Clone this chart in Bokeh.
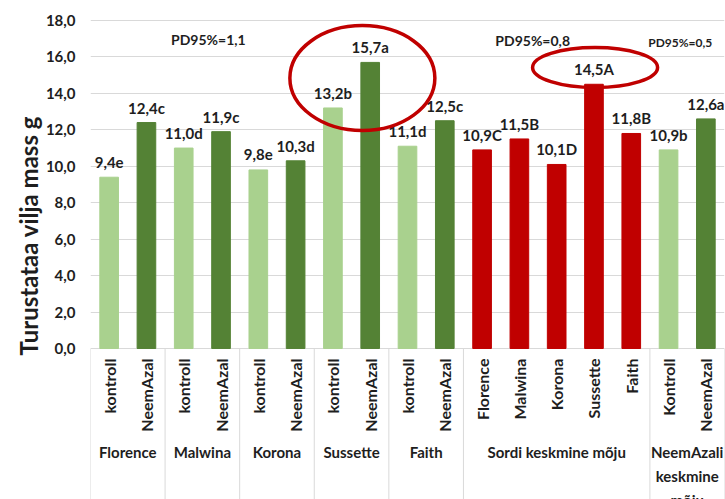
import math
from bokeh.plotting import figure
from bokeh.models import FactorRange, FixedTicker, Title, Range1d, ColumnDataSource
from bokeh.core.properties import value
from bokeh.embed import file_html
from bokeh.resources import INLINE

# ---------------- data ----------------
groups = ["Florence", "Malwina", "Korona", "Sussette", "Faith",
          "Sordi keskmine mõju", "NeemAzali keskmine mõju"]
group_labels = ["Florence", "Malwina", "Korona", "Sussette", "Faith",
                "Sordi keskmine mõju", "NeemAzali\nkeskmine\nmõju"]
sub_labels = [["kontroll", "NeemAzal"], ["kontroll", "NeemAzal"], ["kontroll", "NeemAzal"],
              ["kontroll", "NeemAzal"], ["kontroll", "NeemAzal"],
              ["Florence", "Malwina", "Korona", "Sussette", "Faith"],
              ["Kontroll", "NeemAzal"]]
values = [9.4, 12.4, 11.0, 11.9, 9.8, 10.3, 13.2, 15.7, 11.1, 12.5,
          10.9, 11.5, 10.1, 14.5, 11.8, 10.9, 12.6]
letters = ["e", "c", "d", "c", "e", "d", "b", "a", "d", "c",
           "C", "B", "D", "A", "B", "b", "a"]
series = ["kontroll", "NeemAzal"] * 5 + ["sort"] * 5 + ["kontroll", "NeemAzal"]
pd95_groups = ["Malwina", "Sordi keskmine mõju", "NeemAzali keskmine mõju"]
pd95_values = [1.1, 0.8, 0.5]
y_ticks = [0, 2, 4, 6, 8, 10, 12, 14, 16, 18]
y_title = "Turustataa vilja mass g"

# ---------------- styles ----------------
FONT = "Lato"
TXT = "#1e1e1e"
colors_map = {"kontroll": "#a9d18e", "NeemAzal": "#548235", "sort": "#c00000"}
GRID = "#d9d9d9"
Y_TOP = 19.0976
Y_BOT = -8.2867

def fmt(v):
    return f"{v:.1f}".replace(".", ",")

factors = [(g, s) for g, subs in zip(groups, sub_labels) for s in subs]
flat_subs = [s for subs in sub_labels for s in subs]
bar_colors = [colors_map[s] for s in series]
value_text = [fmt(v) + l for v, l in zip(values, letters)]

boundaries = [0]
for subs in sub_labels:
    boundaries.append(boundaries[-1] + len(subs))

p = figure(x_range=FactorRange(*factors, factor_padding=0, group_padding=0,
                               subgroup_padding=0, range_padding=0),
           y_range=Range1d(Y_BOT, Y_TOP),
           width=725, height=499, output_backend="svg", toolbar_location=None,
           x_axis_location=None, min_border_left=90, min_border_right=1,
           min_border_top=0, min_border_bottom=0)
p.outline_line_color = None
p.xgrid.visible = False
p.ygrid.grid_line_color = GRID
p.ygrid.grid_line_width = 1

ax = p.yaxis[0]
ax.ticker = FixedTicker(ticks=y_ticks)
ax.major_label_overrides = {float(t): fmt(t) for t in y_ticks}
ax.axis_line_color = None
ax.major_tick_line_color = None
ax.minor_tick_line_color = None
ax.major_tick_out = 0
ax.major_label_standoff = 15
ax.major_label_text_font = FONT
ax.major_label_text_font_size = "15px"
ax.major_label_text_font_style = "bold"
ax.major_label_text_color = TXT

# separators of the category table
p.segment(x0=boundaries, y0=[0] * len(boundaries), x1=boundaries,
          y1=[Y_BOT] * len(boundaries), line_color=GRID, line_width=1)

# bars
src = ColumnDataSource(dict(x=factors, top=values, color=bar_colors, label=value_text, sub=flat_subs))
p.vbar(x="x", top="top", width=0.5, color="color", source=src)

# value labels
p.text(x="x", y="top", text="label", source=src, y_offset=-15,
       text_align="center", text_baseline="middle", text_font=value(FONT),
       text_font_size="15px", text_font_style="bold", text_color=TXT)

# category labels (rotated)
p.text(x="x", y=-0.55, text="sub", source=src, angle=math.pi / 2,
       text_align="right", text_baseline="middle", text_font=value(FONT),
       text_font_size="16px", text_font_style="bold", text_color=TXT)

# group labels
p.text(x=groups, y=[-5.2] * len(groups), text=group_labels,
       text_align="center", text_baseline="top", text_font=value(FONT),
       text_font_size="15px", text_font_style="bold", text_color=TXT,
       text_line_height=1.333)

# PD95% labels
pd_text = ["PD95%=" + fmt(v) for v in pd95_values]
p.text(x=pd95_groups, y=[16.96, 16.9, 16.8], text=pd_text,
       x_offset=[6, -24, -7], text_align="center", text_baseline="middle",
       text_font=value(FONT), text_font_size=["14px", "14px", "12px"],
       text_font_style="bold", text_color=TXT)

# highlight ellipses
i1 = factors.index(("Sussette", "kontroll")) + 0.5 + 0.79
i2 = factors.index(("Sordi keskmine mõju", "Sussette")) + 0.5 + 0.03
p.ellipse(x=[i1, i2], y=[14.84, 15.42], width=[145, 125], height=[105, 40],
          width_units="screen", height_units="screen",
          fill_color=None, line_color="#c00000", line_width=3.5)

# y-axis title
p.add_layout(Title(text=y_title, align="left", offset=144, standoff=0,
                   text_font=FONT, text_font_size="24px", text_font_style="bold",
                   text_color=TXT), "left")

open("out.html", "w").write(file_html(p, INLINE))
